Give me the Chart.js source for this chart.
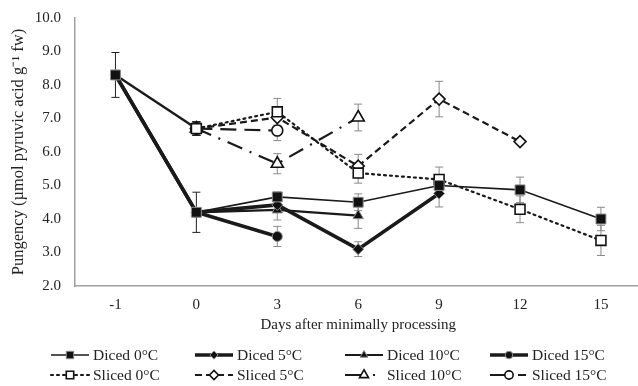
<!DOCTYPE html>
<html>
<head>
<meta charset="utf-8">
<script src="https://cdn.jsdelivr.net/npm/chart.js@4.4.1/dist/chart.umd.min.js"></script>
<style>
  html, body { margin: 0; padding: 0; background: #fff; overflow: hidden; }
  canvas { display: block; }
</style>
</head>
<body>
<canvas id="chart" width="650" height="386"></canvas>
<script>
// Days after processing (category axis)
const days = ['-1', '0', '3', '6', '9', '12', '15'];

// Mean pungency values
const dicedC0 = [8.3, 4.2, 4.66, 4.5, 5.0, 4.87, 4.0];
const dicedC5 = [8.3, 4.2, 4.42, 3.1, 4.76, null, null];
const dicedC10 = [8.3, 4.2, 4.27, 4.1, null, null, null];
const dicedC15 = [8.3, 4.2, 3.48, null, null, null, null];
const slicedC0 = [null, 6.7, 7.2, 5.37, 5.18, 4.29, 3.36];
const slicedC5 = [null, 6.7, 7.03, 5.58, 7.58, 6.31, null];
const slicedC10 = [null, 6.7, 5.65, 7.03, null, null, null];
const slicedC15 = [null, 6.7, 6.64, null, null, null, null];
// solid segment joining day -1 to the sliced day-0 value
const slicedStart = [8.3, 6.7, null, null, null, null, null];

// Error bar half-widths
const dicedC0Err = [0.67, 0.6, 0.15, 0.25, 0.2, 0.38, 0.35];
const dicedC5Err = [0, 0, 0.2, 0.22, 0.4, null, null];
const dicedC10Err = [0, 0, 0.3, 0.38, null, null, null];
const dicedC15Err = [0, 0, 0.3, null, null, null, null];
const slicedC0Err = [null, 0.2, 0.4, 0.3, 0.37, 0.4, 0.45];
const slicedC5Err = [null, 0.2, 0.3, 0.35, 0.53, 0.05, null];
const slicedC10Err = [null, 0.2, 0.3, 0.4, null, null, null];
const slicedC15Err = [null, 0.2, 0.3, null, null, null, null];

const FONT = "'Liberation Serif', 'Times New Roman', serif";
const FILL_BORDER = '#8c8c8c';

function series(label, data, err, opts) {
    return Object.assign({
        label,
        data,
        err,
        borderColor: '#1a1a1a',
        backgroundColor: '#1a1a1a',
        pointBorderColor: FILL_BORDER,
        pointBackgroundColor: '#111',
        pointBorderWidth: 1,
        spanGaps: false,
        tension: 0
    }, opts);
}

const datasets = [
    series('Diced 0°C', dicedC0, dicedC0Err, { borderWidth: 1.6, pointStyle: 'rect', pointRadius: 7 }),
    series('Diced 5°C', dicedC5, dicedC5Err, { borderWidth: 3.6, pointStyle: 'rectRot', pointRadius: 5.5 }),
    series('Diced 10°C', dicedC10, dicedC10Err, { borderWidth: 2.2, pointStyle: 'triangle', pointRadius: 6 }),
    series('Diced 15°C', dicedC15, dicedC15Err, { borderWidth: 3.6, pointStyle: 'circle', pointRadius: 5 }),
    series('Sliced 0°C', slicedC0, slicedC0Err, {
        borderWidth: 2.2, borderDash: [2, 4], borderCapStyle: 'round', pointStyle: 'rect', pointRadius: 7,
        pointBackgroundColor: '#fff', pointBorderColor: '#111', pointBorderWidth: 1.6
    }),
    series('Sliced 5°C', slicedC5, slicedC5Err, {
        borderWidth: 2.2, borderDash: [7, 4], pointStyle: 'rectRot', pointRadius: 6,
        pointBackgroundColor: '#fff', pointBorderColor: '#111', pointBorderWidth: 1.6
    }),
    series('Sliced 10°C', slicedC10, slicedC10Err, {
        borderWidth: 2.2, borderDash: [16, 8, 2, 8], pointStyle: 'triangle', pointRadius: 7,
        pointBackgroundColor: '#fff', pointBorderColor: '#111', pointBorderWidth: 1.6,
        legendDash: [20, 8, 2, 20]
    }),
    series('Sliced 15°C', slicedC15, slicedC15Err, {
        borderWidth: 2.2, borderDash: [16, 8], pointStyle: 'circle', pointRadius: 5.5,
        pointBackgroundColor: '#fff', pointBorderColor: '#111', pointBorderWidth: 1.6,
        legendDash: [20, 8, 8, 20]
    }),
    series('', slicedStart, null, { borderWidth: 2.4, pointStyle: 'rect', pointRadius: 6.5, hideInLegend: true })
];

// Error bars, placed with the chart's own scales
const errorBars = {
    id: 'errorBars',
    beforeDatasetsDraw(chart) {
        const { ctx, scales: { x, y } } = chart;
        ctx.save();
        ctx.lineWidth = 1;
        chart.data.datasets.forEach((ds) => {
            if (!ds.err) return;
            ds.data.forEach((v, i) => {
                const e = ds.err[i];
                if (v == null || !e) return;
                const px = x.getPixelForValue(i);
                const top = y.getPixelForValue(v + e);
                const bot = y.getPixelForValue(v - e);
                ctx.strokeStyle = i <= 1 ? '#222' : '#8a8a8a';
                ctx.beginPath();
                ctx.moveTo(px, top); ctx.lineTo(px, bot);
                ctx.moveTo(px - 4, top); ctx.lineTo(px + 4, top);
                ctx.moveTo(px - 4, bot); ctx.lineTo(px + 4, bot);
                ctx.stroke();
            });
        });
        ctx.restore();
    }
};

// Legend drawn in fixed columns like the original figure
const gridLegend = {
    id: 'gridLegend',
    afterDraw(chart) {
        const { ctx } = chart;
        const colX = [93, 237, 387, 532];
        const rowY = [355, 375];
        const items = chart.data.datasets.filter(d => !d.hideInLegend);
        ctx.save();
        items.forEach((ds, k) => {
            const tx = colX[k % 4];
            const ty = rowY[Math.floor(k / 4)];
            const x0 = tx - 42, x1 = tx - 4;
            ctx.strokeStyle = ds.borderColor;
            ctx.lineWidth = ds.borderWidth;
            ctx.lineCap = ds.borderCapStyle || 'butt';
            ctx.setLineDash(ds.legendDash || ds.borderDash || []);
            ctx.beginPath();
            ctx.moveTo(x0, ty); ctx.lineTo(x1, ty);
            ctx.stroke();
            ctx.setLineDash([]);
            ctx.fillStyle = ds.pointBackgroundColor;
            ctx.strokeStyle = ds.pointBorderColor;
            ctx.lineWidth = ds.pointBorderWidth;
            Chart.helpers.drawPoint(ctx, { pointStyle: ds.pointStyle, radius: ds.pointRadius * 0.75, rotation: 0, borderWidth: ds.pointBorderWidth }, (x0 + x1) / 2, ty);
            ctx.fillStyle = '#222';
            ctx.font = "15.5px " + FONT;
            ctx.textBaseline = 'middle';
            ctx.fillText(ds.label, tx, ty + 1);
        });
        ctx.restore();
    }
};

new Chart(document.getElementById('chart'), {
    type: 'line',
    data: { labels: days, datasets },
    options: {
        responsive: false,
        animation: false,
        layout: { padding: { left: 0, right: 1, top: 18, bottom: 50 } },
        plugins: { legend: { display: false }, tooltip: { enabled: false } },
        scales: {
            x: {
                offset: true,
                grid: { display: false, drawTicks: false },
                border: { display: true, color: '#a0a0a0', width: 1.5 },
                ticks: { color: '#222', padding: 10, font: { family: FONT, size: 15 } },
                title: {
                    display: true, text: 'Days after minimally processing', color: '#222',
                    padding: { top: 0, bottom: 2 }, font: { family: FONT, size: 15 }
                },
                afterFit(s) { s.height = 50; s.paddingLeft = 0; s.paddingRight = 0; }
            },
            y: {
                min: 2, max: 10,
                grid: { display: false, drawTicks: false },
                border: { display: true, color: '#a0a0a0', width: 1.5 },
                ticks: {
                    stepSize: 1, color: '#222', padding: 14, font: { family: FONT, size: 15 },
                    callback: v => v.toFixed(1)
                },
                title: {
                    display: true, text: 'Pungency (µmol pyruvic acid g⁻¹ fw)', color: '#222',
                    padding: { top: 9, bottom: 0 }, font: { family: FONT, size: 16.5 }
                },
                afterFit(s) { s.width = 75; s.paddingTop = 0; s.paddingBottom = 0; }
            }
        }
    },
    plugins: [errorBars, gridLegend]
});
</script>
</body>
</html>
